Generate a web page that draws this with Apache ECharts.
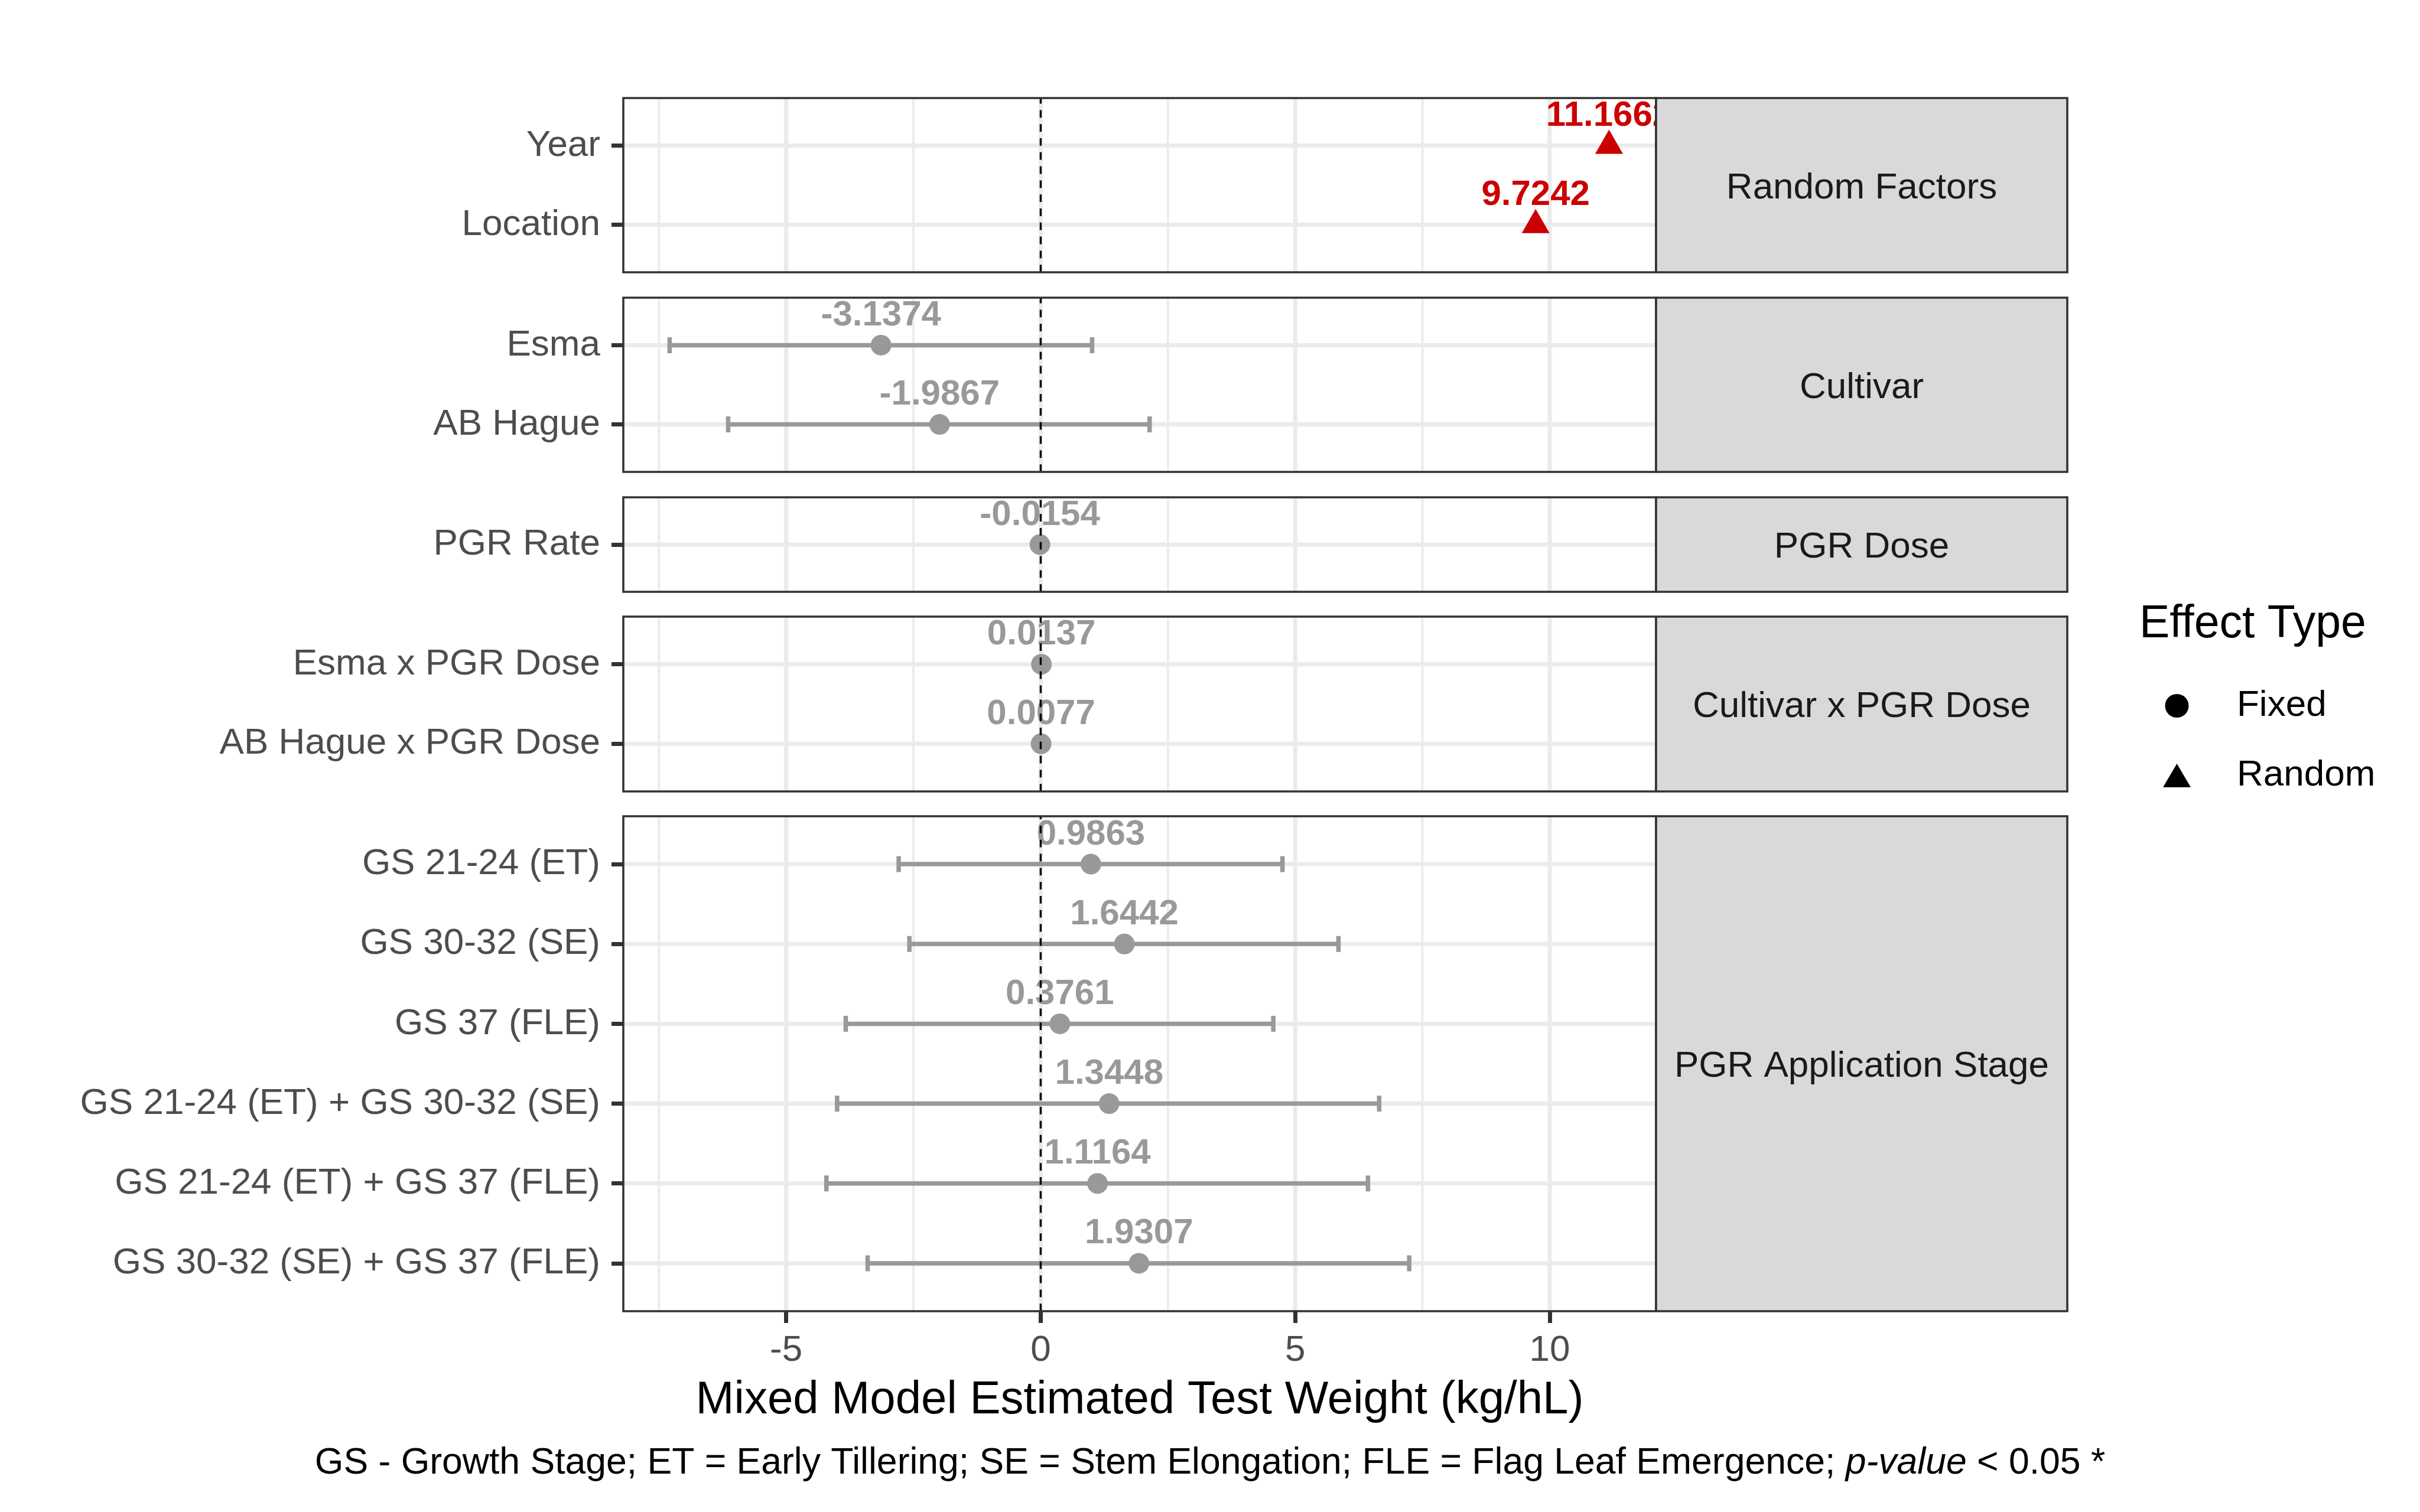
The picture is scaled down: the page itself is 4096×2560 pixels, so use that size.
<!DOCTYPE html>
<html>
<head>
<meta charset="utf-8">
<script src="https://cdn.jsdelivr.net/npm/echarts@6/dist/echarts.min.js"></script>
<style>html,body{margin:0;padding:0;background:#fff}#c{width:4096px;height:2560px}</style>
</head>
<body>
<div id="c"></div>
<script>
// ---------------- data ----------------
const panelNames = ['Random Factors', 'Cultivar', 'PGR Dose', 'Cultivar x PGR Dose', 'PGR Application Stage'];
const terms = ['Year', 'Location', 'Esma', 'AB Hague', 'PGR Rate', 'Esma x PGR Dose', 'AB Hague x PGR Dose',
  'GS 21-24 (ET)', 'GS 30-32 (SE)', 'GS 37 (FLE)', 'GS 21-24 (ET) + GS 30-32 (SE)',
  'GS 21-24 (ET) + GS 37 (FLE)', 'GS 30-32 (SE) + GS 37 (FLE)'];
const termPanel = [0, 0, 1, 1, 2, 3, 3, 4, 4, 4, 4, 4, 4];
const effectType = ['Random', 'Random', 'Fixed', 'Fixed', 'Fixed', 'Fixed', 'Fixed', 'Fixed', 'Fixed', 'Fixed', 'Fixed', 'Fixed', 'Fixed'];
const significant = [true, true, false, false, false, false, false, false, false, false, false, false, false];
const estimates = [11.1662, 9.7242, -3.1374, -1.9867, -0.0154, 0.0137, 0.0077, 0.9863, 1.6442, 0.3761, 1.3448, 1.1164, 1.9307];
const lowerCI = [null, null, -7.29, -6.14, null, null, null, -2.79, -2.58, -3.83, -4.00, -4.21, -3.40];
const upperCI = [null, null, 1.01, 2.14, null, null, null, 4.75, 5.85, 4.57, 6.65, 6.43, 7.24];
const xBreaks = [-5, 0, 5, 10];
const xMinorBreaks = [-7.5, -2.5, 2.5, 7.5];
const xLimits = [-8.2, 12.09];
const refLine = [0];
const legendItems = ['Fixed', 'Random'];
const legendTitle = 'Effect Type';
const xTitle = 'Mixed Model Estimated Test Weight (kg/hL)';
const captionMain = 'GS - Growth Stage; ET = Early Tillering; SE = Stem Elongation; FLE = Flag Leaf Emergence; ';
const captionItalic = 'p-value';
const captionEnd = ' < 0.05 *';

// ---------------- layout / style ----------------
const FONT = '"Liberation Sans", Arial, Helvetica, sans-serif';
const L = { left: 1055, width: 1748, stripWidth: 696, tops: [166, 504, 842, 1044, 1382], heights: [295, 295, 160, 296, 838] };
const GREY = '#999999', RED = '#CC0000';

const grids = [], xAxes = [], yAxes = [], series = [], graphics = [];

panelNames.forEach((pn, p) => {
  const idx = terms.map((t, i) => i).filter(i => termPanel[i] === p);
  const n = idx.length;
  const rows = idx.map((_, k) => k);
  const rowOf = i => idx.indexOf(i);
  const isBottom = p === panelNames.length - 1;

  grids.push({ left: L.left, top: L.tops[p], width: L.width, height: L.heights[p], show: false });

  xAxes.push(isBottom ? {
    gridIndex: p, type: 'value', min: xLimits[0], max: xLimits[1], position: 'bottom',
    axisLine: { show: false, onZero: false }, splitLine: { show: false },
    axisTick: { show: true, customValues: xBreaks, length: 20, lineStyle: { color: '#333333', width: 7 } },
    axisLabel: { show: true, customValues: xBreaks, margin: 36, color: '#4D4D4D', fontSize: 62, fontFamily: FONT }
  } : {
    gridIndex: p, type: 'value', min: xLimits[0], max: xLimits[1], show: false, position: 'bottom',
    axisLine: { show: false, onZero: false }, splitLine: { show: false }, axisTick: { show: false }, axisLabel: { show: false }
  });

  yAxes.push({
    gridIndex: p, type: 'value', inverse: true, min: -0.6, max: n - 0.4, position: 'left',
    axisLine: { show: false, onZero: false }, splitLine: { show: false },
    axisTick: { show: true, customValues: rows, length: 20, lineStyle: { color: '#333333', width: 7 } },
    axisLabel: { show: true, customValues: rows, margin: 39, color: '#4D4D4D', fontSize: 62, fontFamily: FONT,
      padding: [16, 0, 0, 0],
      formatter: v => terms[idx[Math.round(v)]] }
  });

  // grid lines (kind 0 = minor vertical, 1 = major vertical, 2 = horizontal major)
  series.push({
    type: 'custom', xAxisIndex: p, yAxisIndex: p, z: 1, silent: true, clip: false,
    encode: { x: 1, y: 1 },
    data: [...xMinorBreaks.map(v => [0, v]), ...xBreaks.map(v => [1, v]), ...rows.map(r => [2, r])],
    renderItem: (params, api) => {
      const cs = params.coordSys;
      const kind = api.value(0), v = api.value(1);
      if (kind === 2) {
        const y = api.coord([0, v])[1];
        return { type: 'line', shape: { x1: cs.x, y1: y, x2: cs.x + cs.width, y2: y }, style: { stroke: '#EBEBEB', lineWidth: 7 } };
      }
      const x = api.coord([v, 0])[0];
      return { type: 'line', shape: { x1: x, y1: cs.y, x2: x, y2: cs.y + cs.height },
        style: { stroke: '#EBEBEB', lineWidth: kind === 1 ? 7.2 : 3.8 } };
    }
  });

  // error bars
  const eb = idx.filter(i => lowerCI[i] != null).map(i => [lowerCI[i], upperCI[i], rowOf(i)]);
  if (eb.length) {
    series.push({
      type: 'custom', xAxisIndex: p, yAxisIndex: p, z: 2, silent: true,
      encode: { x: [0, 1], y: 2 },
      data: eb,
      renderItem: (params, api) => {
        const y = api.coord([0, api.value(2)])[1];
        const x0 = api.coord([api.value(0), 0])[0];
        const x1 = api.coord([api.value(1), 0])[0];
        const h = 13.5, st = { stroke: GREY, lineWidth: 7.5 };
        return { type: 'group', children: [
          { type: 'line', shape: { x1: x0, y1: y, x2: x1, y2: y }, style: st },
          { type: 'line', shape: { x1: x0, y1: y - h, x2: x0, y2: y + h }, style: st },
          { type: 'line', shape: { x1: x1, y1: y - h, x2: x1, y2: y + h }, style: st }
        ] };
      }
    });
  }

  // points
  legendItems.forEach(type => {
    const ids = idx.filter(i => effectType[i] === type);
    if (!ids.length) return;
    const fixed = type === 'Fixed';
    series.push({
      type: 'scatter', name: type, xAxisIndex: p, yAxisIndex: p, z: 3, silent: true,
      symbol: fixed ? 'circle' : 'triangle',
      symbolSize: fixed ? 35 : [47, 41],
      symbolOffset: fixed ? [0, 0] : [0, -6.4],
      itemStyle: { color: '#000000', opacity: 1 },
      emphasis: { disabled: true },
      data: ids.map(i => ({ value: [estimates[i], rowOf(i)], itemStyle: { color: significant[i] ? RED : GREY } }))
    });
  });

  // value labels (clipped to panel)
  series.push({
    type: 'custom', xAxisIndex: p, yAxisIndex: p, z: 4, silent: true, clip: true,
    encode: { x: 0, y: 1 },
    data: idx.map(i => [estimates[i], rowOf(i), i]),
    renderItem: (params, api) => {
      const pt = api.coord([api.value(0), api.value(1)]);
      const i = api.value(2);
      return { type: 'text', x: pt[0], y: pt[1] - 50,
        style: { text: estimates[i].toFixed(4), fill: significant[i] ? RED : GREY,
          font: 'bold 60px ' + FONT, align: 'center', verticalAlign: 'middle' } };
    }
  });

  // reference dashed line at 0
  series.push({
    type: 'custom', xAxisIndex: p, yAxisIndex: p, z: 5, silent: true, clip: false,
    encode: { x: 0 },
    data: refLine.map(v => [v]),
    renderItem: (params, api) => {
      const cs = params.coordSys;
      const x = api.coord([api.value(0), 0])[0];
      return { type: 'line', shape: { x1: x, y1: cs.y + cs.height, x2: x, y2: cs.y },
        style: { stroke: '#000000', lineWidth: 3.4, lineDash: [12.8, 11] } };
    }
  });

  // panel border
  graphics.push({ type: 'rect', z: 100, silent: true,
    shape: { x: L.left, y: L.tops[p], width: L.width, height: L.heights[p] },
    style: { fill: 'none', stroke: '#333333', lineWidth: 3.6 } });
  // strip
  graphics.push({ type: 'rect', z: 100, silent: true,
    shape: { x: L.left + L.width, y: L.tops[p], width: L.stripWidth, height: L.heights[p] },
    style: { fill: '#D9D9D9', stroke: '#333333', lineWidth: 3.6 } });
  graphics.push({ type: 'text', z: 101, silent: true,
    x: L.left + L.width + L.stripWidth / 2, y: L.tops[p] + L.heights[p] / 2 + 5,
    style: { text: pn, fill: '#1A1A1A', font: '62px ' + FONT, align: 'center', verticalAlign: 'middle' } });
});

// axis title, caption, legend title
graphics.push({ type: 'text', z: 101, silent: true, x: L.left + L.width / 2, y: 2371,
  style: { text: xTitle, fill: '#000000', font: '78px ' + FONT, align: 'center', verticalAlign: 'middle' } });
graphics.push({ type: 'text', z: 101, silent: true, x: 2048, y: 2478,
  style: { text: '{n|' + captionMain + '}{i|' + captionItalic + '}{n|' + captionEnd + '}',
    align: 'center', verticalAlign: 'middle',
    rich: { n: { fontFamily: FONT, fontSize: 62.5, fill: '#000000', color: '#000000' },
            i: { fontFamily: FONT, fontSize: 62.5, fontStyle: 'italic', fill: '#000000', color: '#000000' } } } });
graphics.push({ type: 'text', z: 101, silent: true, x: 3621, y: 1058,
  style: { text: legendTitle, fill: '#000000', font: '77px ' + FONT, align: 'left', verticalAlign: 'middle' } });

const chart = echarts.init(document.getElementById('c'), null, { renderer: 'canvas', width: 4096, height: 2560 });
chart.setOption({
  animation: false,
  backgroundColor: '#FFFFFF',
  grid: grids, xAxis: xAxes, yAxis: yAxes, series: series,
  graphic: { elements: graphics },
  legend: {
    orient: 'vertical', left: 3656, top: 1159, itemWidth: 47, itemHeight: 40, itemGap: 56,
    selectedMode: false,
    itemStyle: { color: '#000000' },
    textStyle: { fontFamily: FONT, fontSize: 62, color: '#000000', lineHeight: 62, padding: [0, 0, 0, 73] },
    data: [
      { name: legendItems[0], icon: 'circle', itemStyle: { color: '#000000' } },
      { name: legendItems[1], icon: 'triangle', itemStyle: { color: '#000000' } }
    ]
  }
});
</script>
</body>
</html>
